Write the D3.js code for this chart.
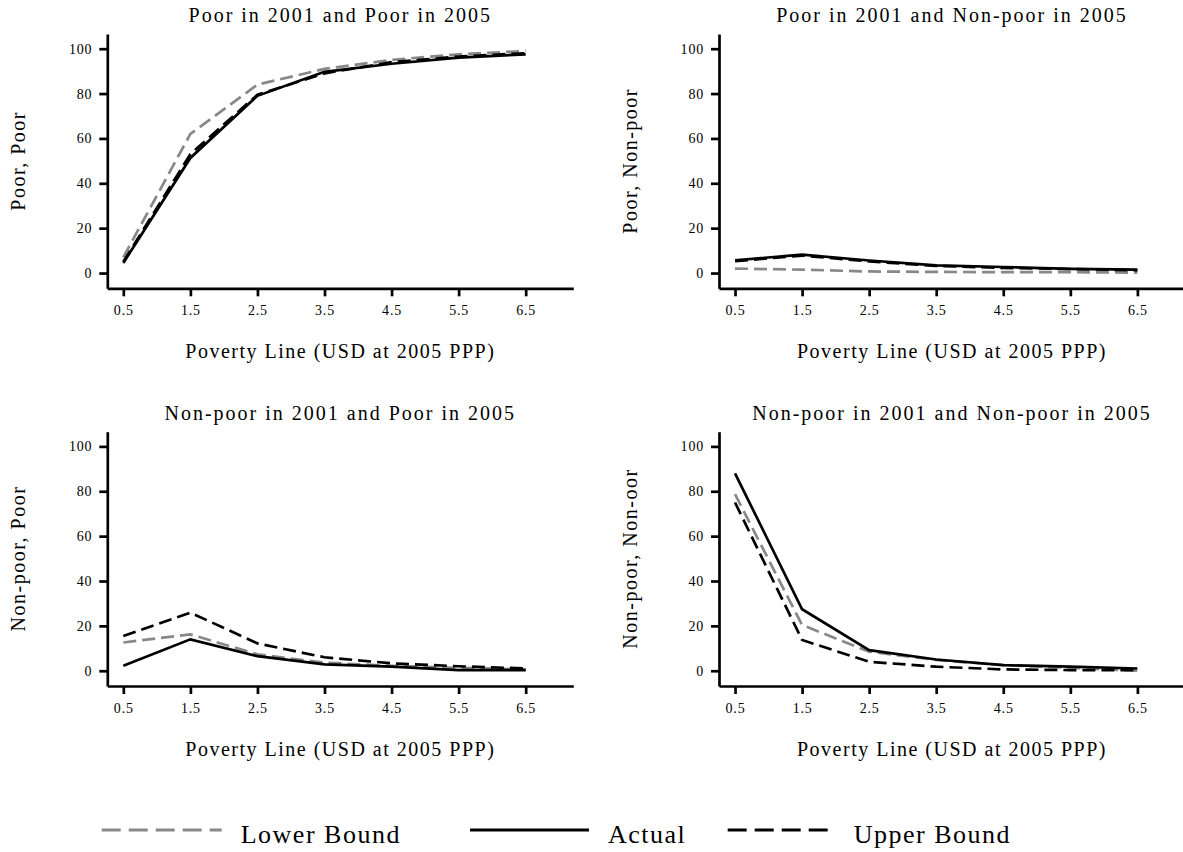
<!DOCTYPE html>
<html>
<head>
<meta charset="utf-8">
<script src="https://cdn.jsdelivr.net/npm/d3@7"></script>
<style>
  body { margin: 0; background: #fff; }
  svg text { font-family: "Liberation Serif", "Times New Roman", serif; fill: #000; }
</style>
</head>
<body>
<svg id="chart" width="1183" height="852"></svg>
<script>
// poverty lines on the x axis
const povertyLines = [0.5, 1.5, 2.5, 3.5, 4.5, 5.5, 6.5];
const yTicks = [0, 20, 40, 60, 80, 100];

// Poor in 2001 and Poor in 2005
const poorPoorLower = [7, 62, 84, 91, 95, 97.5, 99];
const poorPoorActual = [4.5, 51.3, 79, 89.7, 93.3, 96, 97.5];
const poorPoorUpper = [5, 53, 79.5, 89, 94, 96.5, 98];

// Poor in 2001 and Non-poor in 2005
const poorNonpoorLower = [2, 1.5, 0.7, 0.5, 0.4, 0.4, 0.2];
const poorNonpoorActual = [5.7, 8.2, 5.6, 3.4, 2.7, 1.9, 1.5];
const poorNonpoorUpper = [5.3, 7.8, 5.2, 3.2, 2.3, 1.8, 1.2];

// Non-poor in 2001 and Poor in 2005
const nonpoorPoorLower = [12.6, 16.2, 7.3, 3.6, 2.2, 1.3, 0.6];
const nonpoorPoorActual = [2.2, 14, 6.5, 2.8, 1.8, 0.3, 0.3];
const nonpoorPoorUpper = [15.5, 25.9, 12.2, 6, 3.3, 2, 1];

// Non-poor in 2001 and Non-poor in 2005
const nonpoorNonpoorLower = [78.7, 20.4, 8.5, 4.8, 2.5, 1.3, 0];
const nonpoorNonpoorActual = [88, 27.4, 9.2, 5, 2.5, 1.8, 1];
const nonpoorNonpoorUpper = [75, 13.7, 4, 1.8, 0.6, 0.3, 0.3];

const panelTitles = [
    "Poor in 2001 and Poor in 2005",
    "Poor in 2001 and Non-poor in 2005",
    "Non-poor in 2001 and Poor in 2005",
    "Non-poor in 2001 and Non-poor in 2005"
];
const yTitles = ["Poor, Poor", "Poor, Non-poor", "Non-poor, Poor", "Non-poor, Non-oor"];
const xTitle = "Poverty Line (USD at 2005 PPP)";
const seriesNames = ["Lower Bound", "Actual", "Upper Bound"];

// style for each series: lower bound, actual, upper bound
const seriesStyle = [
    { color: "#888888", dash: "13,6" },
    { color: "#000000", dash: null },
    { color: "#000000", dash: "13,6" }
];

const panels = [
    { left: 107.3, top: 34, series: [poorPoorLower, poorPoorActual, poorPoorUpper] },
    { left: 719, top: 34, series: [poorNonpoorLower, poorNonpoorActual, poorNonpoorUpper] },
    { left: 107.3, top: 431.7, series: [nonpoorPoorLower, nonpoorPoorActual, nonpoorPoorUpper] },
    { left: 719, top: 431.7, series: [nonpoorNonpoorLower, nonpoorNonpoorActual, nonpoorNonpoorUpper] }
];

const plotW = 466, plotH = 254.3;
const svg = d3.select("#chart");

// x axis runs a bit past both ends of the poverty lines
const x = d3.scaleLinear().domain([0.261, 7.21]).range([0, plotW]);
const y = d3.scaleLinear().domain([-6.8, 106.55]).range([plotH, 0]);

const line = d3.line()
    .x((d, i) => x(povertyLines[i]))
    .y(d => y(d));

panels.forEach(function (p, k) {
    const g = svg.append("g").attr("transform", `translate(${p.left},${p.top})`);

    // draw lower bound, upper bound, then actual on top
    [0, 2, 1].forEach(function (s) {
        g.append("path")
            .datum(p.series[s])
            .attr("d", line)
            .attr("fill", "none")
            .attr("stroke", seriesStyle[s].color)
            .attr("stroke-width", 2.7)
            .attr("stroke-dasharray", seriesStyle[s].dash);
    });

    const yAxis = g.append("g")
        .call(d3.axisLeft(y).tickValues(yTicks).tickSize(8).tickSizeOuter(0).tickPadding(7));
    const xAxis = g.append("g")
        .attr("transform", `translate(0,${plotH})`)
        .call(d3.axisBottom(x).tickValues(povertyLines).tickSize(8).tickSizeOuter(0).tickPadding(9)
            .tickFormat(d3.format(".1f")));

    [yAxis, xAxis].forEach(function (a) {
        a.select(".domain").attr("stroke-width", 2.7).attr("stroke", "#000");
        a.selectAll(".tick line").attr("stroke-width", 2.7).attr("stroke", "#000");
        a.selectAll(".tick text")
            .style("font-size", "14px")
            .style("letter-spacing", "0.8px")
            .attr("fill", "#000");
    });

    // panel title
    g.append("text")
        .attr("x", plotW / 2)
        .attr("y", -12)
        .attr("text-anchor", "middle")
        .style("font-size", "20px")
        .style("letter-spacing", "2px")
        .text(panelTitles[k]);

    // x axis title
    g.append("text")
        .attr("x", plotW / 2)
        .attr("y", plotH + 70)
        .attr("text-anchor", "middle")
        .style("font-size", "20px")
        .style("letter-spacing", "1.5px")
        .text(xTitle);

    // y axis title
    g.append("text")
        .attr("transform", `translate(-82,${y(50)}) rotate(-90)`)
        .attr("text-anchor", "middle")
        .style("font-size", "20px")
        .style("letter-spacing", "1.5px")
        .text(yTitles[k]);
});

// legend along the bottom
const legendX = [101.7, 470, 727.7];
const legendLen = [120, 119, 107];
const legend = svg.append("g").attr("transform", "translate(0,830)");
seriesNames.forEach(function (name, s) {
    legend.append("line")
        .attr("x1", legendX[s])
        .attr("x2", legendX[s] + legendLen[s])
        .attr("stroke", seriesStyle[s].color)
        .attr("stroke-width", 2.8)
        .attr("stroke-dasharray", seriesStyle[s].dash ? "19,8" : null);
    legend.append("text")
        .attr("x", legendX[s] + legendLen[s] + 19)
        .attr("y", 13)
        .style("font-size", "26px")
        .style("letter-spacing", "1.5px")
        .text(name);
});
</script>
</body>
</html>
